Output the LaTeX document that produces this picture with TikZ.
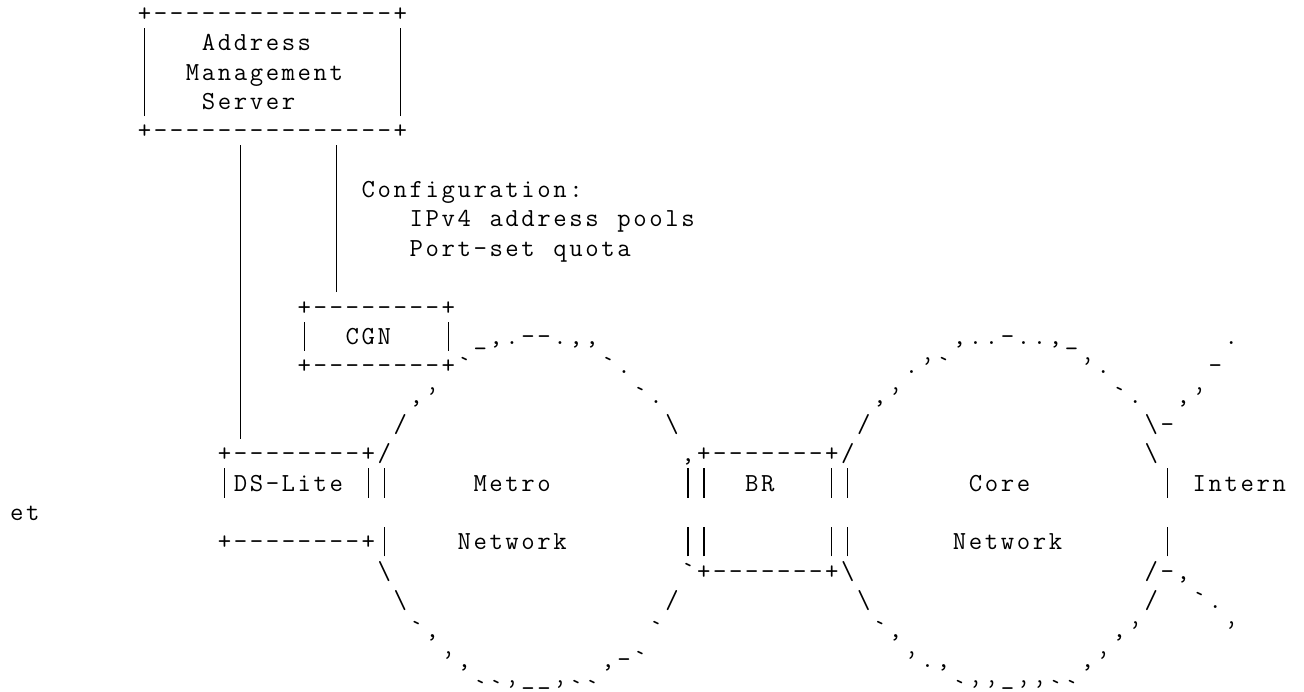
\documentclass[tikz,border=0pt]{standalone}
% Fixed-pitch character grid: every character sits in a cell of width \cw
\makeatletter
\newlength\cw
\setlength\cw{15.98pt}
\def\gridend{\gridend@}
\def\gridloop#1{\ifx#1\gridend\expandafter\@gobble\else\expandafter\@firstofone\fi
  {\hbox to\cw{\hss#1\hss}\gridloop}}
\newcommand\gridtext[1]{\gridloop#1\gridend}
\makeatother
\newcommand\artq{\textquoteright}
\newcommand\bs{\textbackslash}
% a bar one full line pitch tall, so that stacked bars join up
\newcommand\vb{\vrule width 1.3pt height 22.8pt depth 6.55pt}
% one run of characters starting at row #1, column #2
\newcommand\artseg[3]{\node[art] (r#1c#2) at ({8.81+15.98*#2},{-21.5-29.35*#1}) {\gridtext{#3}};}
\tikzset{art/.style={inner sep=0pt, outer sep=0pt, anchor=base west, text=black,
  font=\ttfamily\fontsize{26}{29}\selectfont}}
\begin{document}
\begin{tikzpicture}[x=1pt,y=1pt]
\useasboundingbox (0,0) rectangle (1304,-691);
\fill[white] (0,0) rectangle (1304,-691);
\clip (0,0) rectangle (1304,-691);
% address management server
\artseg{0}{8}{+---------------+}
\artseg{1}{8}{\vb}\artseg{1}{12}{Address}\artseg{1}{24}{\vb}
\artseg{2}{8}{\vb}\artseg{2}{11}{Management}\artseg{2}{24}{\vb}
\artseg{3}{8}{\vb}\artseg{3}{12}{Server}\artseg{3}{24}{\vb}
\artseg{4}{8}{+---------------+}
% the two links from the server
\foreach \r in {5,...,14} {\artseg{\r}{14}{\vb}}
\foreach \r in {5,...,9} {\artseg{\r}{20}{\vb}}
\artseg{6}{22}{Configuration:}
\artseg{7}{25}{IPv4~address~pools}
\artseg{8}{25}{Port-set~quota}
% CGN and the top of both clouds
\artseg{10}{18}{+--------+}
\artseg{11}{18}{\vb}\artseg{11}{21}{CGN}\artseg{11}{27}{\vb}
\artseg{11}{29}{\_,.--.,,}\artseg{11}{59}{,..-..,\_}\artseg{11}{76}{.}
\artseg{12}{18}{+--------+`}\artseg{12}{37}{`.}\artseg{12}{56}{.\artq`}\artseg{12}{67}{\artq.}\artseg{12}{75}{-}
\artseg{13}{25}{,\artq}\artseg{13}{39}{`.}\artseg{13}{54}{,\artq}\artseg{13}{69}{`.}\artseg{13}{73}{,\artq}
\artseg{14}{24}{/}\artseg{14}{41}{\bs}\artseg{14}{53}{/}\artseg{14}{71}{\bs-}
% DS-Lite, BR and the middle of the clouds
\artseg{15}{13}{+--------+/}\artseg{15}{42}{,+-------+/}\artseg{15}{71}{\bs}
\artseg{16}{13}{\vb DS-Lite~\vb\vb}\artseg{16}{29}{Metro}\artseg{16}{42}{\vb\vb}\artseg{16}{46}{BR}
\artseg{16}{51}{\vb\vb}\artseg{16}{60}{Core}\artseg{16}{72}{\vb}\artseg{16}{74}{Intern}
\artseg{17}{0}{et}
\artseg{18}{13}{+--------+\vb}\artseg{18}{28}{Network}\artseg{18}{42}{\vb\vb}\artseg{18}{51}{\vb\vb}
\artseg{18}{59}{Network}\artseg{18}{72}{\vb}
% lower halves of the clouds
\artseg{19}{23}{\bs}\artseg{19}{42}{`+-------+\bs}\artseg{19}{71}{/-,}
\artseg{20}{24}{\bs}\artseg{20}{41}{/}\artseg{20}{53}{\bs}\artseg{20}{71}{/}\artseg{20}{74}{`.}
\artseg{21}{25}{`,}\artseg{21}{40}{`}\artseg{21}{54}{`,}\artseg{21}{69}{,\artq}\artseg{21}{76}{\artq}
\artseg{22}{27}{\artq,}\artseg{22}{37}{,-`}\artseg{22}{56}{\artq.,}\artseg{22}{67}{,\artq}
\artseg{23}{29}{``\artq--\artq``}\artseg{23}{59}{`\artq\artq-\artq\artq``}
\end{tikzpicture}
\end{document}
